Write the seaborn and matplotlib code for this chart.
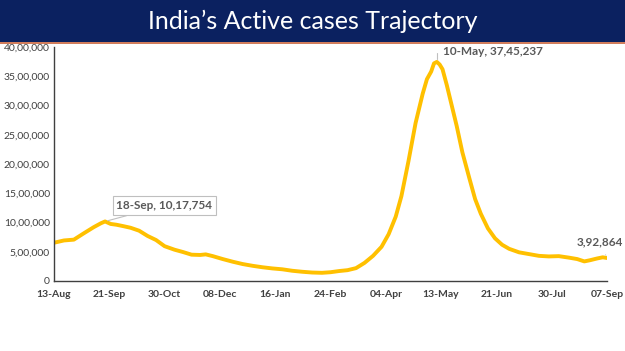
import matplotlib
matplotlib.use("Agg")
import matplotlib.pyplot as plt
import seaborn as sns
import pandas as pd

# Active cases (value in lakhs)
dates = ["2020-08-13", "2020-08-20", "2020-08-27", "2020-09-03", "2020-09-10",
         "2020-09-15", "2020-09-18", "2020-09-22", "2020-09-26", "2020-10-01",
         "2020-10-06", "2020-10-12", "2020-10-18", "2020-10-24", "2020-10-30",
         "2020-11-06", "2020-11-12", "2020-11-18", "2020-11-24", "2020-11-28",
         "2020-12-03", "2020-12-10", "2020-12-17", "2020-12-24", "2020-12-31",
         "2021-01-07", "2021-01-14", "2021-01-21", "2021-01-28", "2021-02-04",
         "2021-02-11", "2021-02-18", "2021-02-24", "2021-03-02", "2021-03-08",
         "2021-03-14", "2021-03-20", "2021-03-26", "2021-04-01", "2021-04-06",
         "2021-04-11", "2021-04-15", "2021-04-20", "2021-04-25", "2021-04-30",
         "2021-05-03", "2021-05-06", "2021-05-08", "2021-05-10", "2021-05-12",
         "2021-05-14", "2021-05-17", "2021-05-20", "2021-05-24", "2021-05-28",
         "2021-06-02", "2021-06-06", "2021-06-10", "2021-06-15", "2021-06-20",
         "2021-06-25", "2021-06-30", "2021-07-07", "2021-07-14", "2021-07-21",
         "2021-07-28", "2021-08-04", "2021-08-11", "2021-08-17", "2021-08-22",
         "2021-08-26", "2021-08-31", "2021-09-04", "2021-09-07"]
lakhs = [6.54, 6.93, 7.07, 8.15, 9.20,
         9.86, 10.18, 9.75, 9.62, 9.37,
         9.10, 8.60, 7.70, 7.00, 5.95,
         5.35, 4.95, 4.50, 4.45, 4.55,
         4.25, 3.75, 3.30, 2.90, 2.60,
         2.35, 2.15, 2.00, 1.75, 1.58,
         1.45, 1.40, 1.50, 1.70, 1.85,
         2.20, 3.10, 4.30, 5.85, 8.00,
         11.0, 14.5, 20.5, 27.0, 32.0,
         34.5, 35.8, 37.2, 37.45, 37.0,
         36.2, 33.5, 30.5, 26.5, 22.0,
         17.5, 14.0, 11.5, 9.0, 7.3,
         6.2, 5.5, 4.9, 4.6, 4.3,
         4.2, 4.25, 4.0, 3.75, 3.35,
         3.55, 3.85, 4.05, 3.93]

tick_dates = ["2020-08-13", "2020-09-21", "2020-10-30", "2020-12-08", "2021-01-16",
              "2021-02-24", "2021-04-04", "2021-05-13", "2021-06-21", "2021-07-30",
              "2021-09-07"]
tick_labels = ["13-Aug", "21-Sep", "30-Oct", "08-Dec", "16-Jan", "24-Feb",
               "04-Apr", "13-May", "21-Jun", "30-Jul", "07-Sep"]
y_ticks = [0, 500000, 1000000, 1500000, 2000000, 2500000, 3000000, 3500000, 4000000]

# labelled points: (date, value, text)
callouts = [("2020-09-18", 1017754, "18-Sep, 10,17,754"),
            ("2021-05-10", 3745237, "10-May, 37,45,237"),
            ("2021-09-07", 392864, "3,92,864")]

df = pd.DataFrame({"date": pd.to_datetime(dates), "cases": [v * 1e5 for v in lakhs]})


def indian(n):
    s = str(int(round(n)))
    if len(s) <= 3:
        return s
    head, tail = s[:-3], s[-3:]
    parts = []
    while len(head) > 2:
        parts.insert(0, head[-2:])
        head = head[:-2]
    if head:
        parts.insert(0, head)
    return ",".join(parts + [tail])


sns.set_theme(style="white")
plt.rcParams["font.family"] = ["Lato", "DejaVu Sans"]

fig = plt.figure(figsize=(6.25, 3.51), dpi=100)

# title banner
banner = fig.add_axes([0, 1 - 42 / 351, 1, 42 / 351])
banner.set_facecolor("#0b2160")
banner.set_xticks([])
banner.set_yticks([])
for s in banner.spines.values():
    s.set_visible(False)
banner.text(0.5, 0.5, "India\u2019s Active cases Trajectory", color="white",
            fontsize=18, ha="center", va="center", transform=banner.transAxes)
fig.add_artist(plt.Line2D([0, 1], [1 - 42.5 / 351] * 2, color="#c8643c", lw=1.2))

ax = fig.add_axes([54 / 625, 1 - 281 / 351, 553 / 625, 234 / 351])
sns.lineplot(data=df, x="date", y="cases", ax=ax, color="#ffc000", lw=2.8)

ax.set_xlim(pd.Timestamp(tick_dates[0]), pd.Timestamp(tick_dates[-1]))
ax.set_ylim(0, 4000000)
ax.set_xticks(pd.to_datetime(tick_dates))
ax.set_xticklabels(tick_labels, fontsize=7.5, fontweight="bold", color="#404040")
ax.set_yticks(y_ticks)
ax.set_yticklabels([indian(v) for v in y_ticks], fontsize=7.5, color="#404040")
ax.set_xlabel("")
ax.set_ylabel("")
ax.spines["top"].set_visible(False)
ax.spines["right"].set_visible(False)
for s in ("left", "bottom"):
    ax.spines[s].set_color("#404040")
    ax.spines[s].set_linewidth(1)
ax.tick_params(axis="x", direction="inout", length=5, width=1, color="#404040", pad=4)
ax.tick_params(axis="y", length=0, pad=3)

grey = "#595959"
d0, v0, t0 = callouts[0]
ax.annotate(t0, xy=(pd.Timestamp(d0), v0), xytext=(pd.Timestamp("2020-09-26"), 1290000),
            fontsize=8.5, fontweight="bold", color=grey, ha="left", va="center",
            bbox=dict(boxstyle="square,pad=0.3", fc="white", ec="#bfbfbf", lw=0.8),
            arrowprops=dict(arrowstyle="-", color="#bfbfbf", lw=0.8))
d1, v1, t1 = callouts[1]
ax.annotate(t1, xy=(pd.Timestamp(d1), v1), xytext=(pd.Timestamp("2021-05-14"), 3920000),
            fontsize=8.5, fontweight="bold", color=grey, ha="left", va="center",
            annotation_clip=False,
            arrowprops=dict(arrowstyle="-", color="#bfbfbf", lw=0.8,
                            connectionstyle="angle,angleA=0,angleB=90,rad=0"))
d2, v2, t2 = callouts[2]
ax.annotate(t2, xy=(pd.Timestamp(d2), v2), xytext=(623, 109), textcoords="figure pixels",
            fontsize=8.5, fontweight="bold", color=grey, ha="right", va="center",
            annotation_clip=False,
            arrowprops=dict(arrowstyle="-", color="#d9d9d9", lw=0.8, shrinkA=3, shrinkB=2))

fig.savefig("out.png", dpi=100)
